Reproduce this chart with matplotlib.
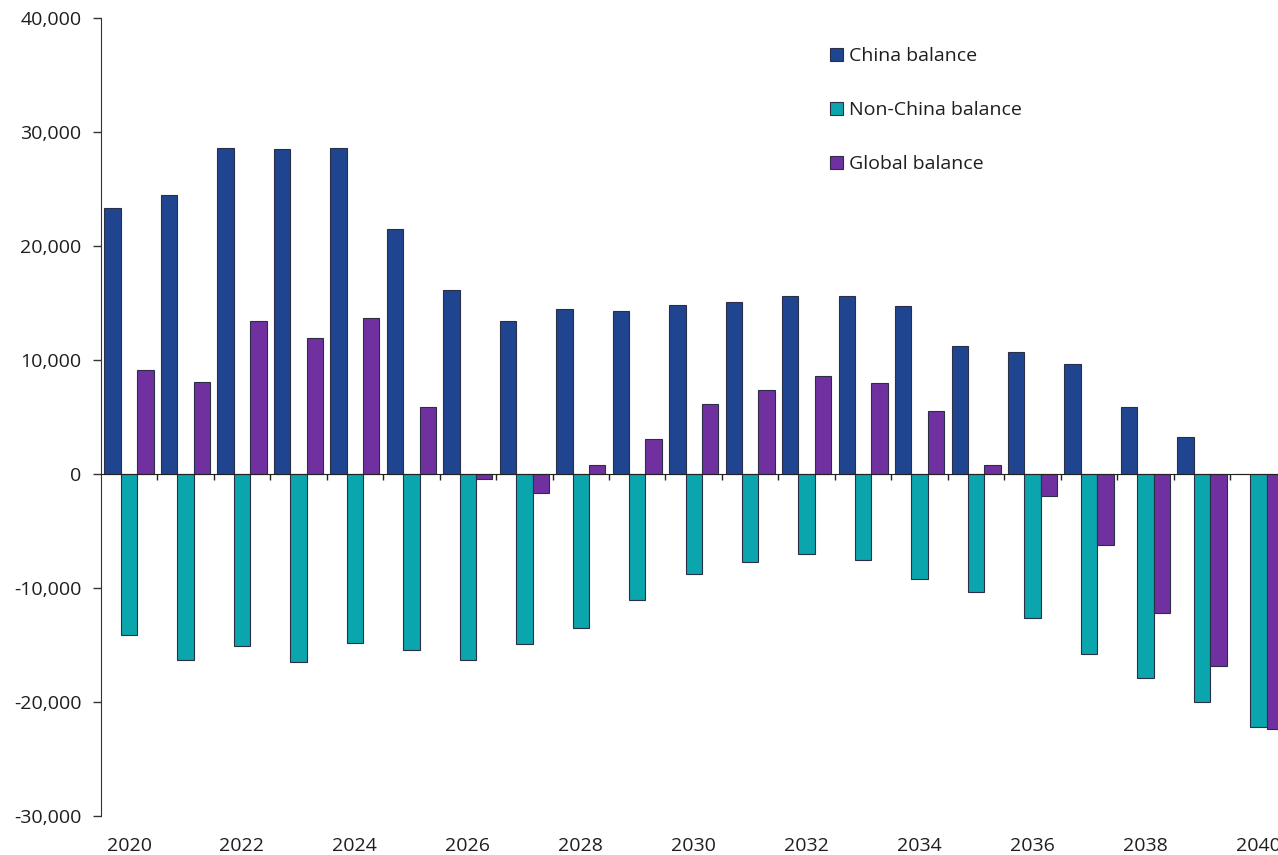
import matplotlib.pyplot as plt
import numpy as np

plt.rcParams['font.family'] = ['Open Sans', 'DejaVu Sans']

years = list(range(2020, 2041))
china = [23300, 24450, 28600, 28500, 28600, 21500, 16150, 13450, 14500, 14250,
         14850, 15100, 15600, 15600, 14750, 11250, 10700, 9650, 5850, 3250, 0]
non_china = [-14100, -16350, -15150, -16550, -14850, -15500, -16350, -14950, -13550, -11100,
             -8750, -7700, -7050, -7600, -9250, -10400, -12650, -15800, -17950, -20050, -22250]
global_bal = [9150, 8100, 13450, 11950, 13700, 5900, -450, -1700, 750, 3100,
              6100, 7400, 8600, 8000, 5550, 800, -1950, -6250, -12250, -16900, -22400]

labels = ['China balance', 'Non-China balance', 'Global balance']
colors = ['#1F4591', '#0BA5AD', '#7030A0']

W, H = 1278, 855
fig = plt.figure(figsize=(W / 100, H / 100), dpi=100)
ax = fig.add_axes([100.8 / W, 39.3 / H, (W - 100.8) / W, 797.7 / H])

x = np.arange(len(years))
wid = 0.29
for k, vals in enumerate([china, non_china, global_bal]):
    ax.bar(x + (k - 1) * wid, vals, width=wid, color=colors[k],
           edgecolor='#2b2f45', linewidth=0.8, label=labels[k], zorder=2)

ax.set_xlim(-0.5, (W - 100.8) / 56.47 - 0.5)
ax.set_ylim(-30000, 40000)
ax.set_yticks(range(-30000, 40001, 10000))
ax.yaxis.set_major_formatter(plt.FuncFormatter(lambda v, p: f'{int(v):,}'))
ax.tick_params(axis='y', length=6, width=1, pad=8, labelsize=14, colors='#333333',
               labelcolor='#1e1e1e')

for s in ['top', 'right']:
    ax.spines[s].set_visible(False)
ax.spines['left'].set_color('#333333')
ax.spines['bottom'].set_position(('data', 0))
ax.spines['bottom'].set_color('#222222')
ax.spines['bottom'].set_zorder(3)

# zero line carries small ticks between categories
ax.set_xticks(x[1:] - 0.5, minor=True)
ax.set_xticks([])
ax.tick_params(axis='x', which='minor', length=4, width=1, colors='#222222')

# year labels along the bottom
sec = ax.secondary_xaxis('bottom')
sec.set_xticks(x[::2])
sec.set_xticklabels([str(y) for y in years[::2]])
sec.spines['bottom'].set_visible(False)
sec.tick_params(axis='x', length=0, pad=15, labelsize=14, labelcolor='#1e1e1e')

ax.legend(loc='upper left', bbox_to_anchor=(830 / W, 1 - 47 / H),
          bbox_transform=fig.transFigure, frameon=False, fontsize=14,
          handlelength=0.67, handleheight=0.67, handletextpad=0.32,
          labelspacing=1.85, borderpad=0, borderaxespad=0, labelcolor='#1e1e1e')

fig.savefig('out.png', dpi=100)
